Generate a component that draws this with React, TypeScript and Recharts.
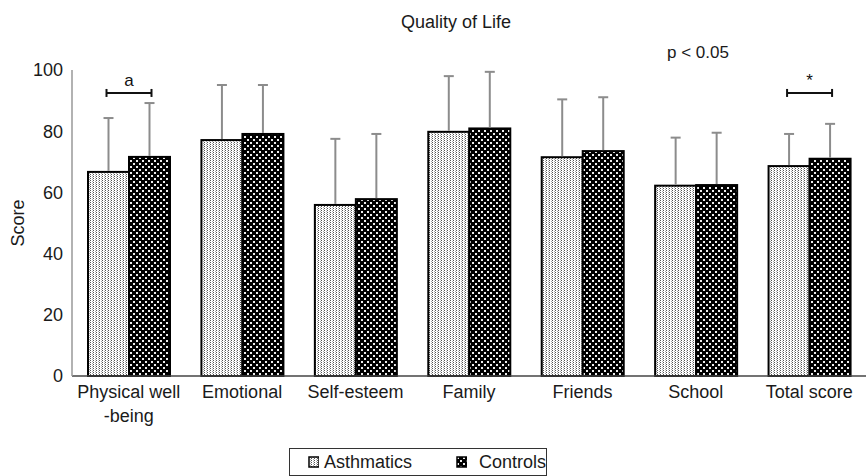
import React from 'react';
import { BarChart, Bar, XAxis, YAxis, Legend } from 'recharts';

const categories = ['Physical well\n-being', 'Emotional', 'Self-esteem', 'Family', 'Friends', 'School', 'Total score'];
const asthmatics = [66.7, 77.1, 55.9, 79.8, 71.5, 62.2, 68.6];
const controls = [71.6, 79.1, 57.8, 80.9, 73.5, 62.4, 71.0];
const asthmaticsSD = [17.6, 18.0, 21.6, 18.2, 18.9, 15.7, 10.5];
const controlsSD = [17.6, 16.0, 21.3, 18.5, 17.6, 17.1, 11.4];
const significance = ['a', '', '', '', '', '', '*'];
const yTicks = [0, 20, 40, 60, 80, 100];
const bracketLevel = 92.5;

const data = categories.map((name, i) => ({
  name,
  asthmatics: asthmatics[i],
  controls: controls[i],
  asthSD: asthmaticsSD[i],
  ctrlSD: controlsSD[i],
  sig: significance[i],
}));

const FONT = '"Liberation Sans", Arial, Helvetica, sans-serif';
const ERR = '#8c8c8c';

const makeShape = (fillId: string, key: 'asthmatics' | 'controls', sdKey: 'asthSD' | 'ctrlSD', withBracket: boolean) =>
  (props: any) => {
    const { x, y, width, height, payload } = props;
    const value = payload[key];
    const k = value ? height / value : 0;
    const base = y + height;
    const cx = x + width / 2;
    const errTop = y - payload[sdKey] * k;
    const by = base - bracketLevel * k;
    return (
      <g>
        <rect x={x} y={y} width={width} height={height} fill={`url(#${fillId})`} stroke="#000" strokeWidth={2} />
        <line x1={cx} x2={cx} y1={y - 1} y2={errTop} stroke={ERR} strokeWidth={2} />
        <line x1={cx - 5} x2={cx + 5} y1={errTop} y2={errTop} stroke={ERR} strokeWidth={2} />
        {withBracket && payload.sig ? (
          <g>
            <line x1={cx - width - 2} x2={cx + 2} y1={by} y2={by} stroke="#111" strokeWidth={2} />
            <line x1={cx - width - 2} x2={cx - width - 2} y1={by - 4} y2={by + 4} stroke="#111" strokeWidth={2} />
            <line x1={cx + 2} x2={cx + 2} y1={by - 4} y2={by + 4} stroke="#111" strokeWidth={2} />
            <text x={cx - width / 2} y={by - 7} textAnchor="middle" fontSize={17} fill="#111" fontFamily={FONT}>
              {payload.sig}
            </text>
          </g>
        ) : null}
      </g>
    );
  };

const CatTick = (props: any) => {
  const { x, y, payload } = props;
  const lines = String(payload.value).split('\n');
  return (
    <text x={x} y={y} textAnchor="middle" fontSize={18} fill="#1a1a1a" fontFamily={FONT}>
      {lines.map((l, i) => (
        <tspan key={i} x={x} dy={i === 0 ? 14 : 24}>{l}</tspan>
      ))}
    </text>
  );
};

const LegendBox = () => (
  <div
    style={{
      border: '1px solid #333',
      height: 28,
      boxSizing: 'border-box',
      display: 'flex',
      alignItems: 'center',
      fontFamily: FONT,
      fontSize: 18,
      color: '#1a1a1a',
      paddingLeft: 18,
    }}
  >
    <svg width={12} height={12} style={{ marginRight: 5 }}>
      <rect x={1} y={1} width={10} height={10} fill="url(#asthPat)" stroke="#000" strokeWidth={1.5} />
    </svg>
    <span style={{ marginRight: 44 }}>Asthmatics</span>
    <svg width={12} height={12} style={{ marginRight: 12 }}>
      <rect x={1} y={1} width={10} height={10} fill="url(#ctrlPat)" stroke="#000" strokeWidth={1.5} />
    </svg>
    <span>Controls</span>
  </div>
);

export default function App() {
  return (
    <div style={{ position: 'absolute', left: 0, top: 0, fontFamily: FONT }}>
      <BarChart
        width={866}
        height={476}
        data={data}
        margin={{ top: 70, right: 0, left: 0, bottom: 22 }}
        barCategoryGap={16}
        barGap={0}
        style={{ fontFamily: FONT }}
      >
        <defs>
          <pattern id="asthPat" patternUnits="userSpaceOnUse" width={3} height={2}>
            <rect x={0} y={0} width={3} height={2} fill="#fff" />
            <rect x={0} y={0} width={1} height={1} fill="#555" />
            <rect x={2} y={1} width={1} height={1} fill="#aaa" />
          </pattern>
          <pattern id="ctrlPat" patternUnits="userSpaceOnUse" width={6} height={6}>
            <rect x={0} y={0} width={6} height={6} fill="#000" />
            <rect x={1} y={1} width={2} height={2} fill="#eee" />
            <rect x={4} y={4} width={2} height={2} fill="#eee" />
          </pattern>
        </defs>
        <text x={456} y={28} textAnchor="middle" fontSize={18} fill="#1a1a1a" fontFamily={FONT}>
          Quality of Life
        </text>
        <text x={698} y={58} textAnchor="middle" fontSize={17} fill="#1a1a1a" fontFamily={FONT}>
          p &lt; 0.05
        </text>
        <text x={18} y={223} textAnchor="middle" fontSize={18} fill="#1a1a1a" fontFamily={FONT} transform="rotate(-90 18 223)" dy={6}>
          Score
        </text>
        <XAxis
          dataKey="name"
          interval={0}
          tickLine={false}
          tickSize={0}
          tickMargin={8}
          height={50}
          axisLine={{ stroke: '#444', strokeWidth: 1.5 }}
          tick={<CatTick />}
        />
        <YAxis
          width={72}
          domain={[0, 100]}
          ticks={yTicks}
          tickLine={false}
          tickSize={0}
          tickMargin={9}
          axisLine={{ stroke: '#999', strokeWidth: 1.5 }}
          tick={{ fontSize: 18, fill: '#1a1a1a', fontFamily: FONT }}
        />
        <Legend
          content={<LegendBox />}
          wrapperStyle={{ position: 'absolute', left: 289, top: 448, width: 258, height: 28 }}
        />
        <Bar dataKey="asthmatics" name="Asthmatics" barSize={41} isAnimationActive={false}
          shape={makeShape('asthPat', 'asthmatics', 'asthSD', false)} />
        <Bar dataKey="controls" name="Controls" barSize={41} isAnimationActive={false}
          shape={makeShape('ctrlPat', 'controls', 'ctrlSD', true)} />
      </BarChart>
    </div>
  );
}
